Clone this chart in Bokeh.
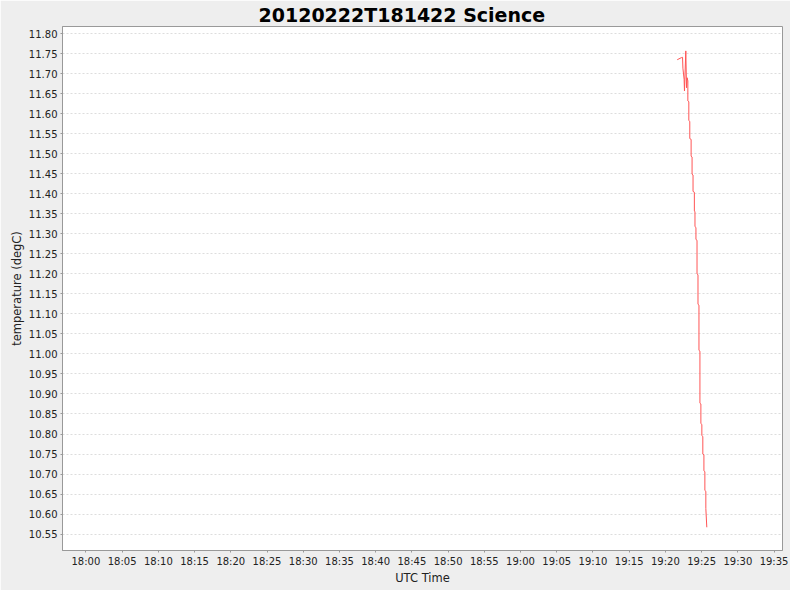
import pandas as pd
from bokeh.plotting import figure
from bokeh.models import FixedTicker, DatetimeTickFormatter, PrintfTickFormatter, Range1d
from bokeh.embed import file_html
from bokeh.resources import INLINE

DAY = "2012-02-22 "

# sample times (UTC) and temperatures (degC)
times = [
    "19:21:38", "19:22:11", "19:22:22", "19:22:25", "19:22:35", "19:22:38",
    "19:22:49", "19:22:55", "19:23:00", "19:23:06", "19:23:06",
    "19:23:14", "19:23:14", "19:23:22", "19:23:22", "19:23:33", "19:23:33",
    "19:23:41", "19:23:41", "19:23:49", "19:23:49", "19:24:00", "19:24:00",
    "19:24:05", "19:24:05", "19:24:13", "19:24:13", "19:24:22", "19:24:22",
    "19:24:30", "19:24:30", "19:24:38", "19:24:38", "19:24:46", "19:24:46",
    "19:24:54", "19:24:54", "19:25:02", "19:25:02", "19:25:10", "19:25:10",
    "19:25:19", "19:25:19", "19:25:27", "19:25:27", "19:25:35", "19:25:35",
    "19:25:43",
]
temps = [
    11.735, 11.740, 11.741, 11.714, 11.686, 11.657,
    11.757, 11.665, 11.690, 11.682, 11.632,
    11.630, 11.583, 11.581, 11.538, 11.536, 11.494,
    11.492, 11.449, 11.447, 11.406, 11.404, 11.357,
    11.355, 11.318, 11.316, 11.286, 11.284, 11.200,
    11.198, 11.124, 11.122, 11.009, 11.007, 10.877,
    10.875, 10.826, 10.824, 10.796, 10.794, 10.750,
    10.748, 10.708, 10.706, 10.659, 10.657, 10.614,
    10.567,
]

x_tick_labels = ["18:00", "18:05", "18:10", "18:15", "18:20", "18:25", "18:30",
                 "18:35", "18:40", "18:45", "18:50", "18:55", "19:00", "19:05",
                 "19:10", "19:15", "19:20", "19:25", "19:30", "19:35"]
y_ticks = [10.55, 10.60, 10.65, 10.70, 10.75, 10.80, 10.85, 10.90, 10.95, 11.00,
           11.05, 11.10, 11.15, 11.20, 11.25, 11.30, 11.35, 11.40, 11.45, 11.50,
           11.55, 11.60, 11.65, 11.70, 11.75, 11.80]

x_start = pd.Timestamp(DAY + "17:56:46")
x_end = pd.Timestamp(DAY + "19:36:10")
y_start, y_end = 10.509, 11.818

t = pd.to_datetime([DAY + s for s in times])

p = figure(width=790, height=590, x_axis_type="datetime",
           output_backend="svg", toolbar_location=None,
           title="20120222T181422 Science",
           x_range=Range1d(x_start, x_end), y_range=Range1d(y_start, y_end),
           min_border_left=62, min_border_right=8, min_border_top=26, min_border_bottom=40)

p.line(t, temps, line_color="#ff5555", line_width=1)

p.border_fill_color = "#eeeeee"
p.background_fill_color = "white"
p.outline_line_color = "#999999"
p.outline_line_width = 1

p.title.align = "left"
p.title.offset = 196
p.title.text_font = "DejaVu Sans"
p.title.text_font_size = "19px"
p.title.text_font_style = "bold"
p.title.text_color = "black"
p.title.standoff = 2

xt = [pd.Timestamp(DAY + s).value / 1e6 for s in x_tick_labels]
p.xaxis.ticker = FixedTicker(ticks=xt)
p.xaxis.formatter = DatetimeTickFormatter(minutes="%H:%M", hours="%H:%M",
                                          minsec="%H:%M", seconds="%H:%M")
p.yaxis.ticker = FixedTicker(ticks=y_ticks)
p.yaxis.formatter = PrintfTickFormatter(format="%.2f")

for ax in (p.xaxis, p.yaxis):
    ax.axis_line_color = "#999999"
    ax.major_tick_line_color = "#999999"
    ax.major_tick_in = 0
    ax.major_tick_out = 2
    ax.minor_tick_line_color = None
    ax.major_label_text_font = "DejaVu Sans"
    ax.major_label_text_font_size = "10px"
    ax.major_label_text_color = "#222222"
    ax.axis_label_text_font = "DejaVu Sans"
    ax.axis_label_text_font_size = "11.5px"
    ax.axis_label_text_font_style = "normal"
    ax.axis_label_text_color = "#222222"
    ax.major_label_standoff = 3

p.xaxis.axis_label_standoff = 1
p.yaxis.axis_label_standoff = 2

p.xaxis.axis_label = "UTC Time"
p.yaxis.axis_label = "temperature (degC)"

p.xgrid.grid_line_color = None
p.ygrid.grid_line_color = "#dddddd"
p.ygrid.grid_line_dash = "2 2"

html = file_html(p, INLINE)
html = html.replace("<body>", '<body style="background:#eeeeee">', 1)
open("out.html", "w").write(html)
